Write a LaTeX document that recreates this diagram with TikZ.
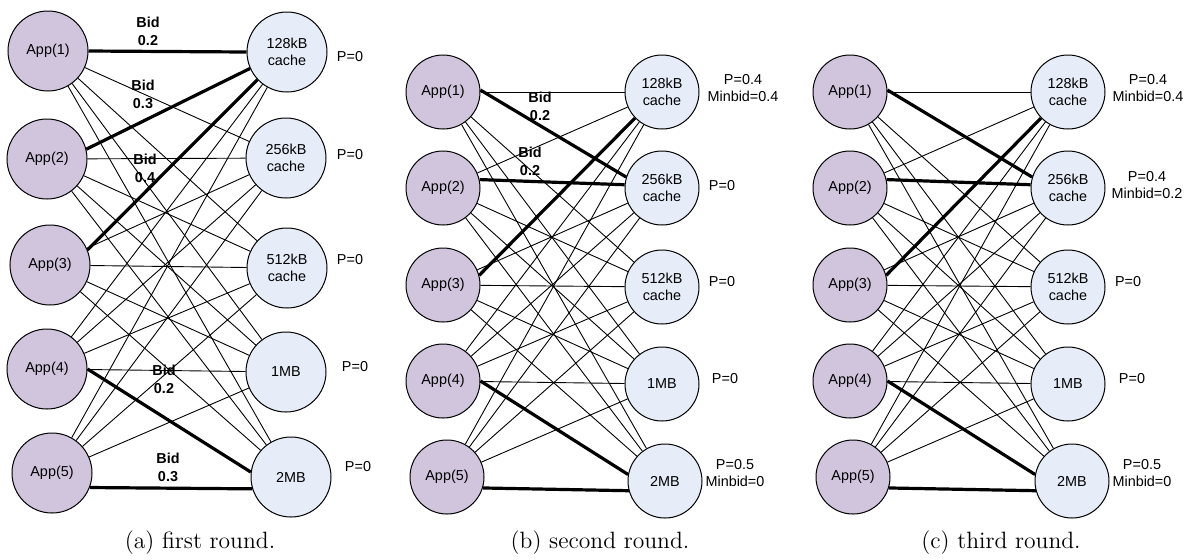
\documentclass[tikz,border=0pt]{standalone}
\usepackage{fontspec}
\newfontfamily\arialfont{Liberation Sans}
\definecolor{appfill}{RGB}{209,197,222}
\definecolor{cachefill}{RGB}{231,237,248}

\tikzset{
  nodetext/.style={font=\arialfont\fontsize{7.2}{8.6}\selectfont, align=center},
  app/.style={circle, draw, line width=0.5pt, fill=appfill, inner sep=0pt, minimum size=#1, nodetext},
  cache/.style={circle, draw, line width=0.5pt, fill=cachefill, inner sep=0pt, minimum size=#1, nodetext},
  link/.style={line width=0.45pt},
  bidlink/.style={line width=1.6pt},
  price/.style={nodetext, inner sep=0pt},
  bid/.style={font=\arialfont\bfseries\fontsize{7.2}{9}\selectfont, align=center, inner sep=0pt},
  caption/.style={font=\fontsize{11.8}{14}\selectfont, inner sep=0pt}
}

\begin{document}
\begin{tikzpicture}[x=0.5pt, y=-0.5pt]
\useasboundingbox (0,0) rectangle (1184,559);

% (a) first round
\foreach \i/\x/\y in {1/48/51, 2/47/159, 3/50/265, 4/47/369, 5/52/473}
  \node[app=40pt] (a\i) at (\x,\y) {App(\i)};
\foreach \j/\x/\y/\t in {1/287/52/{128kB\\cache}, 2/286/158/{256kB\\cache}, 3/287/268/{512kB\\cache}, 4/286/372/1MB, 5/291/477/2MB}
  \node[cache=40pt] (ac\j) at (\x,\y) {\t};
\foreach \i in {1,...,5}
  \foreach \j in {1,...,5} {
    \pgfmathtruncatemacro\isbid{(\j==1 && \i<4) || (\j==5 && \i>3)}
    \ifnum\isbid=0 \draw[link] (a\i) -- (ac\j); \fi
  }
\draw[bidlink] (a1.0) -- (ac1.180);
\draw[bidlink] (a2.14) -- (ac1.204);
\draw[bidlink] (a3.22) -- (ac1.223);
\draw[bidlink] (a4.0) -- (ac5.173);
\draw[bidlink] (a5.-21) -- (ac5.197);
\foreach \x/\y/\t in {148/31/0.2, 143/94/0.3, 145/168/0.4, 164/379/0.2, 168/467/0.3}
  \node[bid] at (\x,\y) {Bid\\\t};
\foreach \j/\x/\y in {1/350/57, 2/350/155, 3/350/260, 4/355/367, 5/358/467}
  \node[price] (ap\j) at (\x,\y) {P=0};
\node[caption] (capa) at (200,543) {(a) first round.};

% (b) second round
\foreach \i/\x/\y in {1/443/92, 2/443/188, 3/443/285, 4/443/381, 5/447/477}
  \node[app=37pt] (b\i) at (\x,\y) {App(\i)};
\foreach \j/\x/\y/\t in {1/662/92/{128kB\\cache}, 2/662/188/{256kB\\cache}, 3/662/287/{512kB\\cache}, 4/662/384/1MB, 5/665/481/2MB}
  \node[cache=37pt] (bc\j) at (\x,\y) {\t};
\foreach \i in {1,...,5}
  \foreach \j in {1,...,5} {
    \pgfmathtruncatemacro\isbid{(\j==2 && \i<3) || (\j==1 && \i==3) || (\j==5 && \i>3)}
    \ifnum\isbid=0 \draw[link] (b\i) -- (bc\j); \fi
  }
\draw[bidlink] (b1.3) -- (bc2.163);
\draw[bidlink] (b2.13) -- (bc2.175);
\draw[bidlink] (b3.15) -- (bc1.224);
\draw[bidlink] (b4.0) -- (bc5.170);
\draw[bidlink] (b5.-17) -- (bc5.195);
\foreach \x/\y in {540/106, 530/161}
  \node[bid] at (\x,\y) {Bid\\0.2};
\node[price] (bp1) at (743,88) {P=0.4\\Minbid=0.4};
\node[price] (bp2) at (722,186) {P=0};
\node[price] (bp3) at (722,282) {P=0};
\node[price] (bp4) at (725,379) {P=0};
\node[price] (bp5) at (735,473) {P=0.5\\Minbid=0};
\node[caption] (capb) at (600,543) {(b) second round.};

% (c) third round
\foreach \i/\x/\y in {1/850/92, 2/850/188, 3/850/285, 4/850/381, 5/853/477}
  \node[app=37pt] (c\i) at (\x,\y) {App(\i)};
\foreach \j/\x/\y/\t in {1/1068/92/{128kB\\cache}, 2/1068/188/{256kB\\cache}, 3/1068/287/{512kB\\cache}, 4/1068/384/1MB, 5/1072/481/2MB}
  \node[cache=37pt] (cc\j) at (\x,\y) {\t};
\foreach \i in {1,...,5}
  \foreach \j in {1,...,5} {
    \pgfmathtruncatemacro\isbid{(\j==2 && \i<3) || (\j==1 && \i==3) || (\j==5 && \i>3)}
    \ifnum\isbid=0 \draw[link] (c\i) -- (cc\j); \fi
  }
\draw[bidlink] (c1.3) -- (cc2.163);
\draw[bidlink] (c2.13) -- (cc2.175);
\draw[bidlink] (c3.15) -- (cc1.224);
\draw[bidlink] (c4.0) -- (cc5.170);
\draw[bidlink] (c5.-17) -- (cc5.195);
\node[price] (cp1) at (1148,88) {P=0.4\\Minbid=0.4};
\node[price] (cp2) at (1147,185) {P=0.4\\Minbid=0.2};
\node[price] (cp3) at (1128,282) {P=0};
\node[price] (cp4) at (1132,379) {P=0};
\node[price] (cp5) at (1142,473) {P=0.5\\Minbid=0};
\node[caption] (capc) at (1001,543) {(c) third round.};
\end{tikzpicture}
\end{document}
